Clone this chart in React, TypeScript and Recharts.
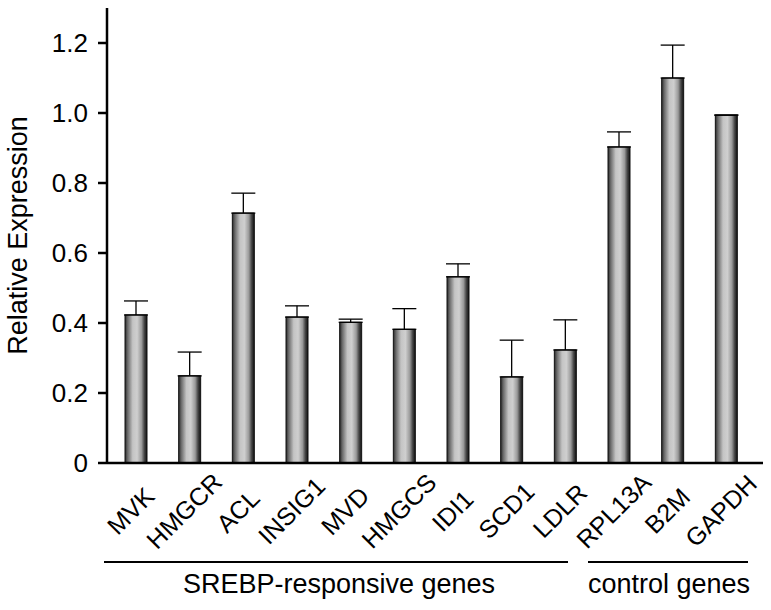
import React from 'react';
import { BarChart, Bar, XAxis, YAxis, ErrorBar } from 'recharts';

const genes = ['MVK', 'HMGCR', 'ACL', 'INSIG1', 'MVD', 'HMGCS', 'IDI1', 'SCD1', 'LDLR', 'RPL13A', 'B2M', 'GAPDH'];
const expression = [0.423, 0.249, 0.714, 0.417, 0.402, 0.382, 0.532, 0.246, 0.323, 0.903, 1.1, 0.994];
const upperError = [0.04, 0.068, 0.057, 0.032, 0.009, 0.059, 0.037, 0.105, 0.086, 0.043, 0.094, 0];
const yTicks = [0, 0.2, 0.4, 0.6, 0.8, 1.0, 1.2];

const data = genes.map((name, i) => ({
  name,
  value: expression[i],
  err: [0, upperError[i]],
}));

const FONT = '"Liberation Sans", Arial, Helvetica, sans-serif';

const GeneTick = (props: any) => {
  const { x, y, payload } = props;
  const cx = x + 1;
  const cy = y + 46;
  return (
    <text
      x={cx}
      y={cy}
      transform={`rotate(-45, ${cx}, ${cy})`}
      textAnchor="middle"
      fontSize={25}
      fontFamily={FONT}
      fill="#000"
    >
      {payload.value}
    </text>
  );
};

const App = () => {
  return (
    <div style={{ position: 'absolute', left: 0, top: 0, width: 771, height: 610, background: '#fff' }}>
      <BarChart
        width={771}
        height={610}
        data={data}
        margin={{ top: 8, right: 8, bottom: 0, left: 0 }}
      >
        <defs>
          <linearGradient id="barShade" x1="0" y1="0" x2="1" y2="0">
            <stop offset="0%" stopColor="#2a2a2a" />
            <stop offset="12%" stopColor="#6a6a6a" />
            <stop offset="35%" stopColor="#c4c4c4" />
            <stop offset="55%" stopColor="#cfcfcf" />
            <stop offset="75%" stopColor="#9a9a9a" />
            <stop offset="88%" stopColor="#444" />
            <stop offset="100%" stopColor="#111" />
          </linearGradient>
        </defs>
        <XAxis
          dataKey="name"
          interval={0}
          height={147}
          padding={{ left: 2, right: 10 }}
          axisLine={{ stroke: '#000', strokeWidth: 2.5 }}
          tickLine={false}
          tick={<GeneTick />}
        />
        <YAxis
          width={107}
          domain={[0, 1.3]}
          ticks={yTicks}
          allowDataOverflow
          tickFormatter={(v: number) => (v === 0 ? '0' : v.toFixed(1))}
          axisLine={{ stroke: '#000', strokeWidth: 2.5 }}
          tickLine={{ stroke: '#000', strokeWidth: 2.5 }}
          tickSize={9}
          tickMargin={10}
          tick={{ fontSize: 26, fill: '#000', fontFamily: FONT }}
          label={{
            value: 'Relative Expression',
            angle: -90,
            position: 'insideLeft',
            dx: 12,
            style: { fontSize: 27, fill: '#000', fontFamily: FONT, textAnchor: 'middle' },
          }}
        />
        <Bar dataKey="value" barSize={22} fill="url(#barShade)" stroke="#111" strokeWidth={1} isAnimationActive={false}>
          <ErrorBar dataKey="err" width={12} stroke="#000" strokeWidth={1.3} direction="y" />
        </Bar>
      </BarChart>
      <div style={{ position: 'absolute', left: 104, top: 561, width: 464, height: 2, background: '#000' }} />
      <div style={{ position: 'absolute', left: 588, top: 561, width: 160, height: 2, background: '#000' }} />
      <div
        style={{
          position: 'absolute',
          left: 104,
          width: 470,
          top: 569,
          textAlign: 'center',
          fontFamily: FONT,
          fontSize: 27,
          color: '#000',
        }}
      >
        SREBP-responsive genes
      </div>
      <div
        style={{
          position: 'absolute',
          left: 584,
          width: 170,
          top: 569,
          textAlign: 'center',
          fontFamily: FONT,
          fontSize: 27,
          color: '#000',
        }}
      >
        control genes
      </div>
    </div>
  );
};

export default App;
